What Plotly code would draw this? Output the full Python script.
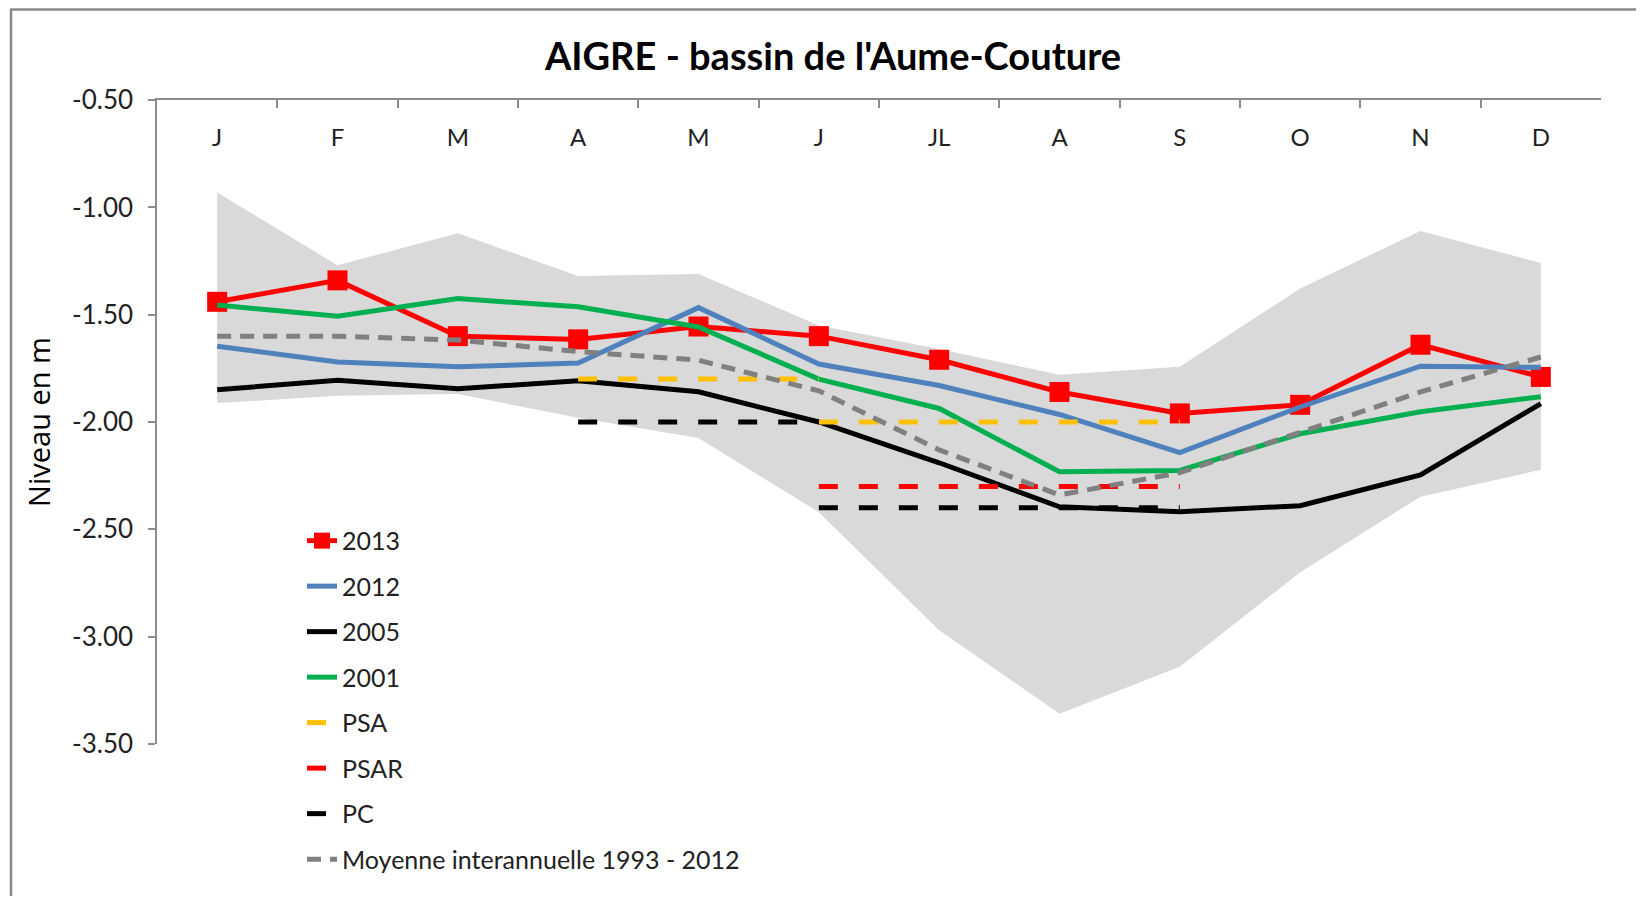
import plotly.graph_objects as go

# ---------------- data ----------------
months = ["J", "F", "M", "A", "M", "J", "JL", "A", "S", "O", "N", "D"]
month_idx = list(range(12))

y2013 = [-1.44, -1.34, -1.60, -1.615, -1.555, -1.60, -1.71, -1.86, -1.96, -1.92, -1.64, -1.79]
y2012 = [-1.647, -1.72, -1.743, -1.725, -1.467, -1.73, -1.83, -1.965, -2.143, -1.93, -1.74, -1.745]
y2005 = [-1.85, -1.805, -1.845, -1.808, -1.859, -2.00, -2.19, -2.395, -2.418, -2.39, -2.247, -1.914]
y2001 = [-1.455, -1.507, -1.425, -1.463, -1.557, -1.80, -1.937, -2.232, -2.226, -2.055, -1.952, -1.882]
moyenne = [-1.60, -1.60, -1.618, -1.672, -1.712, -1.855, -2.13, -2.34, -2.236, -2.05, -1.86, -1.697]

band_upper = [-0.93, -1.27, -1.12, -1.32, -1.31, -1.55, -1.66, -1.78, -1.743, -1.378, -1.11, -1.259]
band_lower = [-1.912, -1.878, -1.87, -1.98, -2.075, -2.42, -2.97, -3.36, -3.14, -2.70, -2.348, -2.223]

# threshold series (None = break between segments)
psa_x = [3, 4, 5, None, 5, 6, 7, 8]
psa_y = [-1.80, -1.80, -1.80, None, -2.00, -2.00, -2.00, -2.00]
psar_x = [5, 6, 7, 8]
psar_y = [-2.30, -2.30, -2.30, -2.30]
pc_x = [3, 4, 5, None, 5, 6, 7, 8]
pc_y = [-2.00, -2.00, -2.00, None, -2.40, -2.40, -2.40, -2.40]

y_ticks = [-0.5, -1.0, -1.5, -2.0, -2.5, -3.0, -3.5]
y_tick_text = ["-0.50", "-1.00", "-1.50", "-2.00", "-2.50", "-3.00", "-3.50"]
boundaries = [k - 0.5 for k in range(13)]

# ---------------- geometry (page has an 8px body margin) ----------------
OFF = 8
W, H = 1644 - 2 * OFF, 904 - 2 * OFF
PL, PR, PT, PB = 157, 1601, 99.6, 744.4   # plot area in page pixels
ML, MT = PL - OFF, PT - OFF
MR, MB = W - (PR - OFF), H - (PB - OFF)
PW, PH = W - ML - MR, H - MT - MB

def px_x(p):  # page px -> paper
    return (p - OFF - ML) / PW

def px_y(p):
    return (H - MB - (p - OFF)) / PH

fig = go.Figure()

# grey envelope
fig.add_trace(go.Scatter(x=month_idx, y=band_lower, mode="lines", line=dict(width=0, color="#D9D9D9"),
                         showlegend=False, hoverinfo="skip"))
fig.add_trace(go.Scatter(x=month_idx, y=band_upper, mode="lines", line=dict(width=0, color="#D9D9D9"),
                         fill="tonexty", fillcolor="#D9D9D9", showlegend=False, hoverinfo="skip"))

LW = 5
series = [
    dict(name="2013", x=month_idx, y=y2013, color="#FF0000", dash="solid", marker=True),
    dict(name="2012", x=month_idx, y=y2012, color="#4F81BD", dash="solid"),
    dict(name="2005", x=month_idx, y=y2005, color="#000000", dash="solid"),
    dict(name="2001", x=month_idx, y=y2001, color="#00B050", dash="solid"),
    dict(name="PSA", x=psa_x, y=psa_y, color="#FFC000", dash="19px,21px"),
    dict(name="PSAR", x=psar_x, y=psar_y, color="#FF0000", dash="19px,21px"),
    dict(name="PC", x=pc_x, y=pc_y, color="#000000", dash="19px,21px"),
    dict(name="Moyenne interannuelle 1993 - 2012", x=month_idx, y=moyenne, color="#808080", dash="14px,9px"),
]

for i, s in enumerate(series):
    kw = dict(
        x=s["x"], y=s["y"], name=s["name"], legendgroup=s["name"], legendrank=i + 1,
        line=dict(color=s["color"], width=LW, dash=s["dash"]),
        connectgaps=False,
    )
    if s.get("marker"):
        kw["mode"] = "lines+markers"
        kw["marker"] = dict(symbol="square", size=20, color=s["color"])
    else:
        kw["mode"] = "lines"
    fig.add_trace(go.Scatter(**kw))

# invisible carrier trace for the month-label axis
fig.add_trace(go.Scatter(x=month_idx, y=[None] * 12, xaxis="x2", mode="lines",
                         showlegend=False, hoverinfo="skip"))

axis_col = "#8C8C8C"
fig.update_layout(
    width=W, height=H,
    margin=dict(l=ML, r=MR, t=MT, b=MB, autoexpand=False),
    paper_bgcolor="white", plot_bgcolor="white",
    font=dict(family="Lato, sans-serif", size=24, color="#222222"),
    title=dict(text="<b>AIGRE - bassin de l'Aume-Couture</b>", x=(833 - OFF) / W, xref="container",
               xanchor="center", y=1 - (57 - OFF) / H, yref="container", yanchor="middle",
               font=dict(family="Lato, sans-serif", size=38, color="#000000")),
    xaxis=dict(
        range=[-0.5, 11.5], side="top", showline=True, linecolor=axis_col, linewidth=1.5,
        showgrid=False, zeroline=False,
        tickmode="array", tickvals=boundaries, ticks="inside", ticklen=8,
        tickcolor=axis_col, tickwidth=1.5, showticklabels=False,
        fixedrange=True,
    ),
    xaxis2=dict(
        range=[-0.5, 11.5], overlaying="x", anchor="free", position=px_y(121), side="bottom",
        showline=False, showgrid=False, zeroline=False, ticks="",
        tickmode="array", tickvals=month_idx, ticktext=months,
        tickfont=dict(size=24, color="#222222"), fixedrange=True,
    ),
    yaxis=dict(
        range=[-3.5005, -0.4995], showline=True, linecolor=axis_col, linewidth=1.5,
        showgrid=False, zeroline=False,
        tickmode="array", tickvals=y_ticks, ticktext=y_tick_text,
        ticks="outside", ticklen=7, tickcolor=axis_col, tickwidth=1.5, ticklabelstandoff=10,
        tickfont=dict(size=26, color="#222222"),
        title=dict(text="Niveau en m", standoff=13,
                   font=dict(family="Open Sans, sans-serif", size=29, color="#000000")),
        automargin=False, fixedrange=True,
    ),
    legend=dict(
        x=px_x(302), y=px_y(518), xanchor="left", yanchor="top",
        bgcolor="rgba(0,0,0,0)", font=dict(size=25, color="#222222"),
        traceorder="grouped", tracegroupgap=10, itemwidth=30,
    ),
    shapes=[dict(type="rect", xref="paper", yref="paper",
                 x0=px_x(11), x1=px_x(1700), y0=px_y(960), y1=px_y(9),
                 line=dict(color="#8A8A8A", width=2.5), layer="below")],
)

fig.write_html("out.html")
